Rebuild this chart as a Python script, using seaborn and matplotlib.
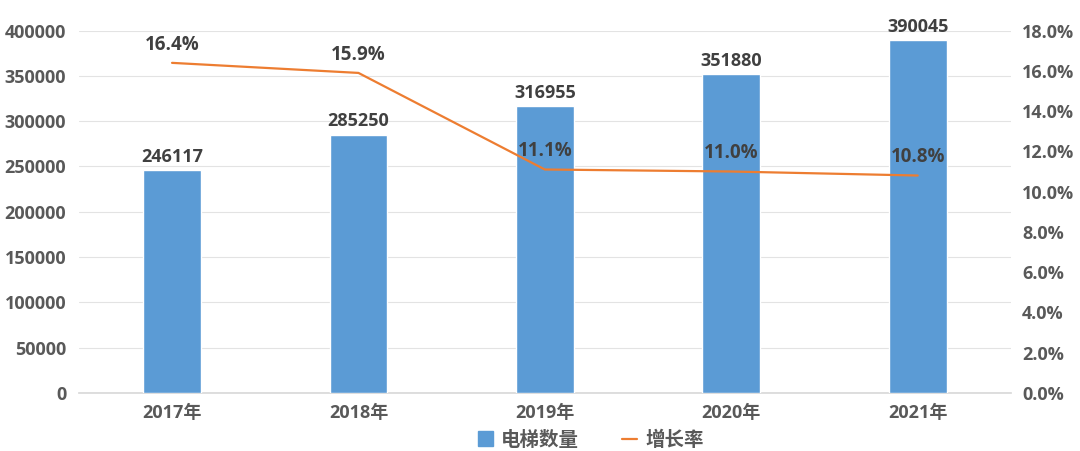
import pandas as pd
import matplotlib.pyplot as plt
import seaborn as sns
from matplotlib.lines import Line2D
from matplotlib.patches import Patch

years = ['2017年', '2018年', '2019年', '2020年', '2021年']
elevators = [246117, 285250, 316955, 351880, 390045]
growth = [16.4, 15.9, 11.1, 11.0, 10.8]

df = pd.DataFrame({'year': years, 'count': elevators, 'growth': growth})

sns.set_theme(style='white')
plt.rcParams['font.family'] = ['Open Sans', 'Noto Sans CJK SC', 'DejaVu Sans']
plt.rcParams['font.weight'] = 'bold'

text_color = '#595959'
bar_color = '#5B9BD5'
line_color = '#ED7D31'

fig = plt.figure(figsize=(10.8, 4.51), dpi=100)
ax = fig.add_axes([0.073, 0.129, 0.863, 0.803])

sns.barplot(data=df, x='year', y='count', color=bar_color, width=0.31,
            saturation=1, ax=ax, zorder=3)
ax.set_ylim(0, 400000)
ax.set_yticks(range(0, 400001, 50000))
ax.set_xlim(-0.5, 4.5)
ax.grid(axis='y', color='#E3E3E3', linewidth=0.8, zorder=0)
ax.set_xlabel('')
ax.set_ylabel('')
for s in ['top', 'right', 'left']:
    ax.spines[s].set_visible(False)
ax.spines['bottom'].set_color('#D9D9D9')
ax.tick_params(axis='both', colors=text_color, labelsize=13, length=0, pad=8)
ax.tick_params(axis='y', pad=9)
for lbl in ax.get_xticklabels() + ax.get_yticklabels():
    lbl.set_fontweight('bold')

for i, v in enumerate(elevators):
    ax.annotate(str(v), (i, v), xytext=(0, 3), textcoords='offset points',
                ha='center', va='bottom', fontsize=13, fontweight='bold',
                color='#404040')

ax2 = ax.twinx()
sns.lineplot(x=list(range(len(years))), y=growth, color=line_color,
             linewidth=1.6, ax=ax2, zorder=4)
ax2.set_ylim(0, 18)
ax2.set_yticks(range(0, 19, 2))
ax2.set_yticklabels([f'{t:.1f}%' for t in range(0, 19, 2)])
for s in ax2.spines.values():
    s.set_visible(False)
ax2.tick_params(axis='y', colors=text_color, labelsize=13, length=0, pad=8)
for lbl in ax2.get_yticklabels():
    lbl.set_fontweight('bold')

for i, g in enumerate(growth):
    ax2.annotate(f'{g:.1f}%', (i, g), xytext=(0, 6), textcoords='offset points',
                 ha='center', va='bottom', fontsize=13.5, fontweight='bold',
                 color='#404040')

handles = [Patch(color=bar_color, label='电梯数量'),
           Line2D([0], [0], color=line_color, linewidth=1.6, label='增长率')]
fig.legend(handles=handles, loc='lower center', ncol=2, frameon=False,
           bbox_to_anchor=(0.547, -0.038), handlelength=0.8,
           handleheight=0.8, handletextpad=0.4, columnspacing=2.2,
           labelcolor=text_color, prop={'weight': 'bold', 'size': 14})

fig.savefig('out.png', dpi=100)
